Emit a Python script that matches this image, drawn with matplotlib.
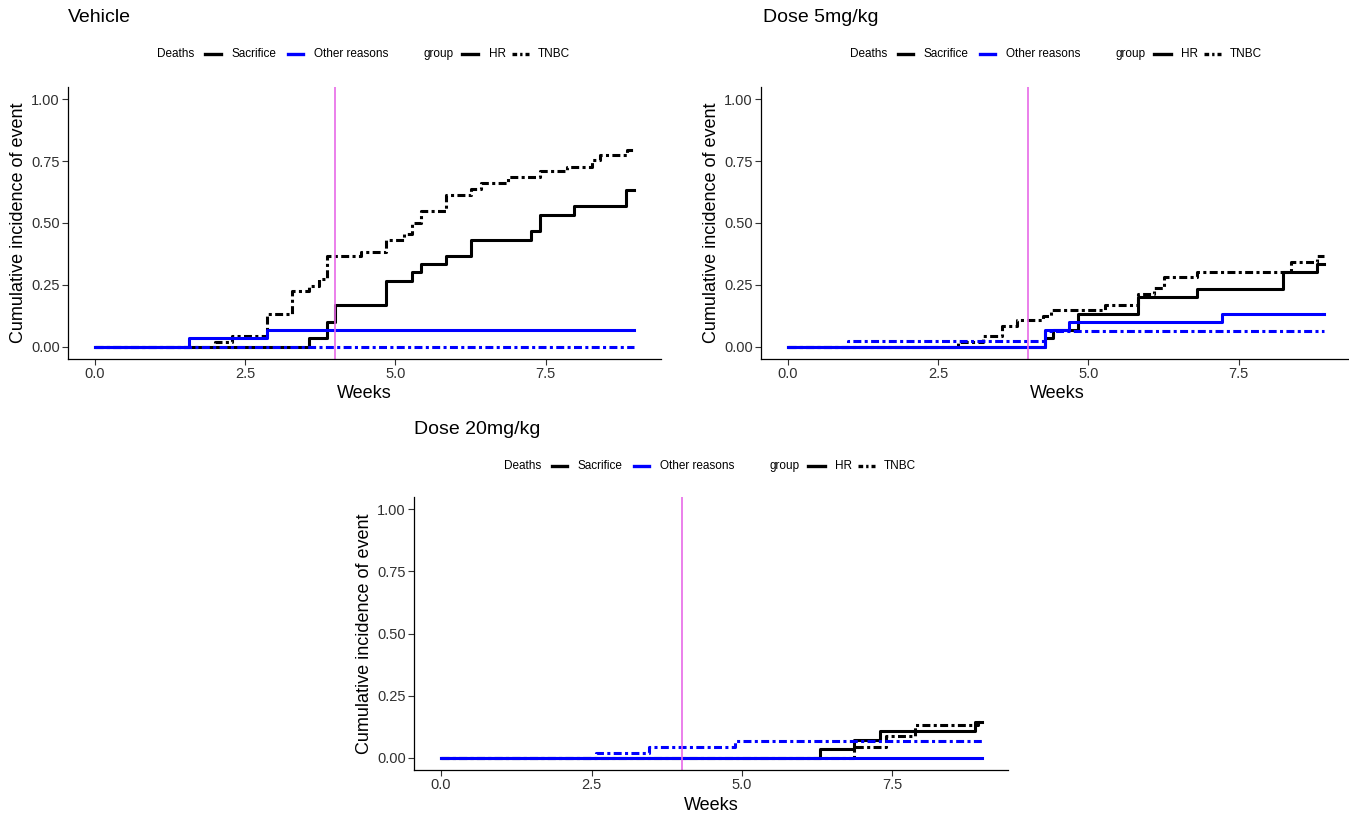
import numpy as np
import matplotlib
matplotlib.use('Agg')
import matplotlib.pyplot as plt
from matplotlib.lines import Line2D

plt.rcParams['font.family'] = ['Liberation Sans', 'DejaVu Sans']

# ---- data ----
# Vehicle
veh_hr_sac_t = [0, 3.56, 3.86, 3.99, 4.85, 5.28, 5.43, 5.84, 6.26, 7.26, 7.41, 7.98, 8.84, 8.97]
veh_hr_sac_y = [0, 0.033, 0.1, 0.167, 0.267, 0.3, 0.333, 0.367, 0.433, 0.467, 0.533, 0.567, 0.633, 0.633]
veh_tn_sac_t = [0, 2.0, 2.28, 2.86, 3.28, 3.56, 3.72, 3.86, 4.42, 4.85, 5.15, 5.28, 5.43, 5.84,
                6.26, 6.42, 6.88, 7.41, 7.85, 8.27, 8.41, 8.85, 8.97]
veh_tn_sac_y = [0, 0.02, 0.043, 0.132, 0.227, 0.247, 0.273, 0.365, 0.382, 0.43, 0.455, 0.5, 0.547, 0.615,
                0.639, 0.662, 0.685, 0.709, 0.727, 0.754, 0.774, 0.797, 0.797]
veh_hr_oth_t = [0, 1.57, 2.86, 8.97]
veh_hr_oth_y = [0, 0.033, 0.067, 0.067]
veh_tn_oth_t = [0, 8.97]
veh_tn_oth_y = [0, 0]

# Dose 5mg/kg
d5_hr_sac_t = [0, 4.28, 4.41, 4.82, 5.82, 6.80, 8.24, 8.81, 8.92]
d5_hr_sac_y = [0, 0.033, 0.067, 0.133, 0.2, 0.233, 0.3, 0.333, 0.333]
d5_tn_sac_t = [0, 2.83, 3.25, 3.56, 3.81, 4.25, 4.38, 5.27, 5.82, 6.09, 6.25, 6.80, 8.37, 8.81, 8.92]
d5_tn_sac_y = [0, 0.02, 0.042, 0.082, 0.109, 0.122, 0.149, 0.169, 0.214, 0.237, 0.28, 0.30, 0.344, 0.368, 0.368]
d5_hr_oth_t = [0, 4.27, 4.68, 7.23, 8.92]
d5_hr_oth_y = [0, 0.067, 0.1, 0.133, 0.133]
d5_tn_oth_t = [0, 0.99, 4.28, 8.92]
d5_tn_oth_y = [0, 0.022, 0.065, 0.065]

# Dose 20mg/kg
d20_hr_sac_t = [0, 6.29, 6.86, 7.30, 8.87, 8.99]
d20_hr_sac_y = [0, 0.036, 0.071, 0.107, 0.143, 0.143]
d20_tn_sac_t = [0, 6.86, 7.40, 7.87, 8.92, 8.99]
d20_tn_sac_y = [0, 0.042, 0.085, 0.133, 0.145, 0.145]
d20_hr_oth_t = [0, 8.99]
d20_hr_oth_y = [0, 0]
d20_tn_oth_t = [0, 2.58, 3.45, 4.88, 8.99]
d20_tn_oth_y = [0, 0.019, 0.042, 0.067, 0.067]

titles = ['Vehicle', 'Dose 5mg/kg', 'Dose 20mg/kg']
cutoff_week = 4
x_ticks = [0, 2.5, 5.0, 7.5]
y_ticks = [0, 0.25, 0.5, 0.75, 1.0]

panels = [
    (veh_hr_sac_t, veh_hr_sac_y, veh_tn_sac_t, veh_tn_sac_y,
     veh_hr_oth_t, veh_hr_oth_y, veh_tn_oth_t, veh_tn_oth_y),
    (d5_hr_sac_t, d5_hr_sac_y, d5_tn_sac_t, d5_tn_sac_y,
     d5_hr_oth_t, d5_hr_oth_y, d5_tn_oth_t, d5_tn_oth_y),
    (d20_hr_sac_t, d20_hr_sac_y, d20_tn_sac_t, d20_tn_sac_y,
     d20_hr_oth_t, d20_hr_oth_y, d20_tn_oth_t, d20_tn_oth_y),
]

W, H = 1349, 815
# axes boxes in pixels: left, top, right, bottom
boxes = [(68, 87, 661, 359), (761, 87, 1354, 359), (414, 497, 1008, 770)]
title_pos = [(68, 17), (763, 17), (414, 430)]
legend_y = [54, 54, 466]

BLUE = '#0000FF'
DASH = (2.6, 1.1, 1.0, 1.1)
LW = 2.2

fig = plt.figure(figsize=(W / 100, H / 100), dpi=100)


def fx(px):
    return px / W


def fy(py):
    return 1 - py / H


def draw_legend(cx, py):
    y = fy(py)
    txt = dict(fontsize=8.5, va='center', ha='left', color='black')
    fig.text(fx(cx - 207), y, 'Deaths', **txt)
    fig.add_artist(Line2D([fx(cx - 159), fx(cx - 144)], [y, y], color='black', lw=2.4,
                          transform=fig.transFigure))
    fig.text(fx(cx - 133), y, 'Sacrifice', **txt)
    fig.add_artist(Line2D([fx(cx - 77), fx(cx - 62)], [y, y], color=BLUE, lw=2.4,
                          transform=fig.transFigure))
    fig.text(fx(cx - 51), y, 'Other reasons', **txt)
    fig.text(fx(cx + 59), y, 'group', **txt)
    fig.add_artist(Line2D([fx(cx + 97), fx(cx + 114)], [y, y], color='black', lw=2.4,
                          transform=fig.transFigure))
    fig.text(fx(cx + 124), y, 'HR', **txt)
    fig.add_artist(Line2D([fx(cx + 147), fx(cx + 164)], [y, y], color='black', lw=2.4,
                          dashes=(1.4, 0.9, 0.7, 0.9), transform=fig.transFigure))
    fig.text(fx(cx + 173), y, 'TNBC', **txt)


for i, (box, data) in enumerate(zip(boxes, panels)):
    l, t, r, b = box
    ax = fig.add_axes([fx(l), fy(b), (r - l) / W, (b - t) / H])
    hs_t, hs_y, ts_t, ts_y, ho_t, ho_y, to_t, to_y = data

    ax.step(hs_t, hs_y, where='post', color='black', lw=LW)
    ax.step(ts_t, ts_y, where='post', color='black', lw=LW, dashes=DASH)
    ax.step(to_t, to_y, where='post', color=BLUE, lw=LW, dashes=DASH)
    ax.step(ho_t, ho_y, where='post', color=BLUE, lw=LW)
    ax.axvline(cutoff_week, color='#E86AE8', lw=1.2)

    ax.set_xlim(-0.45, 9.42)
    ax.set_ylim(-0.05, 1.05)
    ax.set_xticks(x_ticks)
    ax.set_xticklabels([f'{v:.1f}' for v in x_ticks])
    ax.set_yticks(y_ticks)
    ax.set_yticklabels([f'{v:.2f}' for v in y_ticks])
    ax.tick_params(length=4, width=0.8, color='#333333', labelsize=10.5,
                   labelcolor='#303030', pad=2)
    for s in ['top', 'right']:
        ax.spines[s].set_visible(False)
    for s in ['left', 'bottom']:
        ax.spines[s].set_linewidth(0.9)
        ax.spines[s].set_color('black')
    ax.set_xlabel('Weeks', fontsize=13, labelpad=3)
    ax.set_ylabel('Cumulative incidence of event', fontsize=13, labelpad=3)

    tx, ty = title_pos[i]
    fig.text(fx(tx), fy(ty), titles[i], fontsize=14, ha='left', va='center')
    draw_legend((l + r) / 2 if i != 1 else 1057, legend_y[i])

fig.savefig('out.png', dpi=100)
